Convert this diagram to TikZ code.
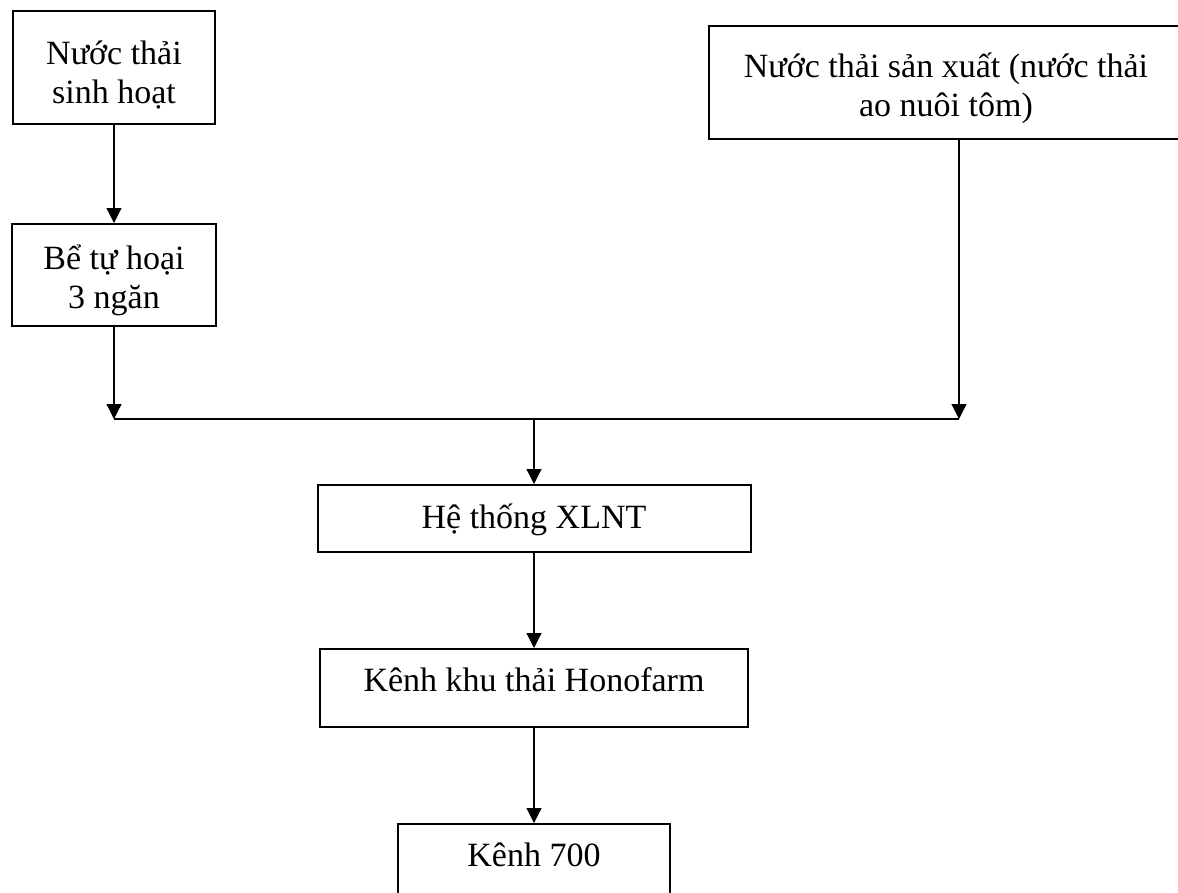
\documentclass[tikz,border=0pt]{standalone}
\usepackage{fontspec}
\setmainfont{Liberation Serif}
\usetikzlibrary{arrows.meta}
\begin{document}
\begin{tikzpicture}[x=1pt, y=-1pt,
    box/.style={draw, line width=2pt, align=center, anchor=north,
      inner xsep=0pt, inner ysep=0pt, font=\fontsize{34}{39}\selectfont},
    flow/.style={line width=1.2pt, -{Triangle[width=15pt, length=15pt]}}]
  \useasboundingbox (0,0) rectangle (1178,892);
  \node[box, minimum width=202pt, text height=92pt, text depth=21pt] (sinhhoat) at (114,10) {Nước thải\\sinh hoạt};
  \node[box, minimum width=204pt, text height=84pt, text depth=18pt] (betuhoai) at (114,223) {Bể tự hoại\\3 ngăn};
  \node[box, minimum width=474pt, text height=90pt, text depth=23pt] (sanxuat) at (946,25) {Nước thải sản xuất (nước thải\\ao nuôi tôm)};
  \coordinate (jl) at (114,419);
  \coordinate (jr) at (959,419);
  \coordinate (jm) at (534,419);
  \node[box, minimum width=433pt, text height=43pt, text depth=24pt] (xlnt) at (534,484) {Hệ thống XLNT};
  \node[box, minimum width=428pt, text height=42pt, text depth=36pt] (kenhkhu) at (534,648) {Kênh khu thải Honofarm};
  \node[box, minimum width=272pt, text height=42pt, text depth=41pt] (kenh700) at (534,823) {Kênh 700};
  \draw[flow] (sinhhoat) -- (betuhoai);
  \draw[flow] (betuhoai) -- (jl);
  \draw[flow] (sanxuat.south -| jr) -- (jr);
  \draw[line width=1.2pt] (jl) -- (jr);
  \draw[flow] (jm) -- (xlnt);
  \draw[flow] (xlnt) -- (kenhkhu);
  \draw[flow] (kenhkhu) -- (kenh700);
\end{tikzpicture}
\end{document}
